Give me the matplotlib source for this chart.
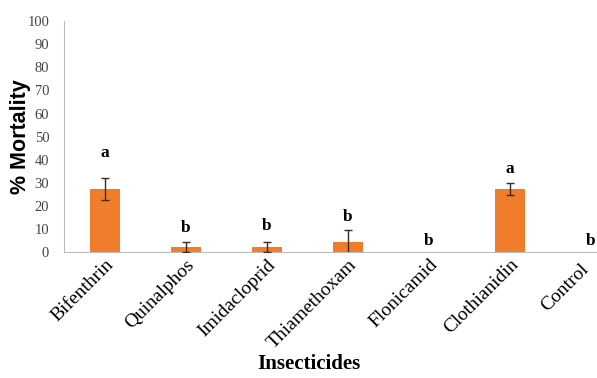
import matplotlib.pyplot as plt

# datos
insecticidas = ["Bifenthrin", "Quinalphos", "Imidacloprid", "Thiamethoxam",
                "Flonicamid", "Clothianidin", "Control"]
mortalidad = [27.3, 2.2, 2.2, 4.4, 0, 27.3, 0]
error = [4.8, 2.2, 2.2, 5.0, 0, 2.5, 0]
letras = ["a", "b", "b", "b", "b", "a", "b"]
pos_letras = [43, 10.5, 11.5, 15, 5, 36, 5]

fig = plt.figure(figsize=(5.97, 3.78), dpi=100)
# el eje se sale por la derecha como en la imagen original
ax = fig.add_axes([0.108, 0.333, 0.95, 0.611])

x = range(len(insecticidas))
ax.bar(x, mortalidad, width=0.37, color="#F07D2C", zorder=2)
for i in x:
    if error[i] > 0:
        ax.errorbar(i, mortalidad[i], yerr=error[i], color="#3a2a20",
                    capsize=3, elinewidth=1, capthick=1, zorder=3)
    ax.text(i, pos_letras[i], letras[i], ha="center", va="center",
            family="Liberation Serif", fontweight="bold", fontsize=12.5)

ax.set_xlim(-0.5, 6.5)
ax.set_ylim(0, 100)
ax.set_yticks(range(0, 101, 10))
ax.set_xticks(list(x))
# la ultima etiqueta se dibuja aparte, corrida a la izquierda para que no se corte
etiquetas = insecticidas[:-1] + [""]
ax.set_xticklabels(etiquetas, rotation=45, ha="right", rotation_mode="anchor",
                   family="Liberation Serif", fontsize=14)
ax.annotate(insecticidas[-1], xy=(len(insecticidas) - 1, 0), xycoords="data",
            xytext=(-8, -6), textcoords="offset points", rotation=45,
            ha="right", va="top", rotation_mode="anchor",
            family="Liberation Serif", fontsize=14, annotation_clip=False)
for t in ax.get_yticklabels():
    t.set_family("Liberation Serif")
    t.set_fontsize(10.5)
    t.set_color("#444444")
ax.tick_params(axis="both", length=0)
ax.tick_params(axis="y", pad=11)
ax.tick_params(axis="x", pad=3)

for s in ["top", "right"]:
    ax.spines[s].set_visible(False)
ax.spines["left"].set_color("#bbbbbb")
ax.spines["bottom"].set_color("#bbbbbb")

ax.set_ylabel("% Mortality", family="Liberation Sans", fontweight="bold",
              fontsize=15.5, labelpad=-3)
fig.text(0.518, 0.038, "Insecticides", ha="center", va="center",
         family="Liberation Serif", fontweight="bold", fontsize=15)

plt.savefig("out.png", dpi=100)
